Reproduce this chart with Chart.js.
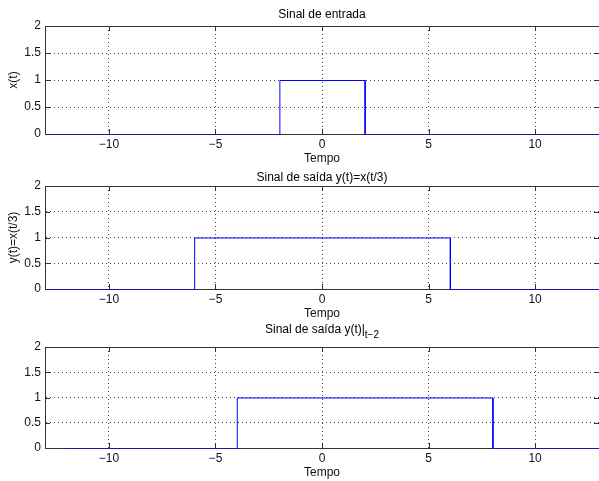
<!DOCTYPE html>
<html>
<head>
<meta charset="utf-8">
<script src="https://cdn.jsdelivr.net/npm/chart.js@4.4.0/dist/chart.umd.min.js"></script>
<style>
  html, body { margin: 0; padding: 0; background: #fff; }
  #wrap { position: relative; width: 599px; height: 481px; overflow: hidden; }
  canvas { position: absolute; left: 0; }
</style>
</head>
<body>
<div id="wrap">
  <canvas id="c1" width="599" height="166" style="top:0px"></canvas>
  <canvas id="c2" width="599" height="155" style="top:166px"></canvas>
  <canvas id="c3" width="599" height="160" style="top:321px"></canvas>
</div>
<script>
// ticks
const tickX = [-10, -5, 0, 5, 10];
const tickY = [0, 0.5, 1, 1.5, 2];

// sinal de entrada x(t)
const tEntrada = [-13, -2, -2, 2, 2, 13];
const xEntrada = [0, 0, 1, 1, 0, 0];

// sinal de saida y(t) = x(t/3)
const tSaida = [-13, -6, -6, 6, 6, 13];
const ySaida = [0, 0, 1, 1, 0, 0];

// sinal de saida deslocado y(t)|t-2
const tDesloc = [-12, -4, -4, 8, 8, 13];
const yDesloc = [0, 0, 1, 1, 0, 0];

const FONT = '"Liberation Sans", Arial, Helvetica, sans-serif';
const minus = s => String(s).replace('-', '\u2212');

// matlab-ish axes box: top line + inward ticks, title with optional subscript
const matBox = {
    id: 'matBox',
    beforeDatasetsDraw(chart) {
        const { ctx, chartArea: a, scales: { x, y } } = chart;
        ctx.save();
        ctx.strokeStyle = '#333';
        ctx.lineWidth = 1;
        ctx.beginPath();
        ctx.moveTo(a.left, a.top + 0.5);
        ctx.lineTo(a.right, a.top + 0.5);
        tickX.forEach(v => {
            const px = Math.round(x.getPixelForValue(v)) + 0.5;
            ctx.moveTo(px, a.bottom); ctx.lineTo(px, a.bottom - 5);
            ctx.moveTo(px, a.top); ctx.lineTo(px, a.top + 5);
        });
        tickY.forEach(v => {
            const py = Math.round(y.getPixelForValue(v)) + 0.5;
            ctx.moveTo(a.left, py); ctx.lineTo(a.left + 5, py);
            ctx.moveTo(a.right, py); ctx.lineTo(a.right - 5, py);
        });
        ctx.stroke();
        ctx.restore();
        ctx.save();
        ctx.translate(0.5, 0.5);
    },
    afterDatasetsDraw(chart) {
        chart.ctx.restore();
    },
    afterDraw(chart, args, opts) {
        const { ctx, chartArea: a } = chart;
        const cx = (a.left + a.right) / 2;
        ctx.save();
        ctx.fillStyle = '#000';
        ctx.textBaseline = 'alphabetic';
        ctx.textAlign = 'left';
        ctx.font = '12px ' + FONT;
        const w1 = ctx.measureText(opts.text).width;
        let w2 = 0;
        if (opts.sub) {
            ctx.font = '10px ' + FONT;
            w2 = ctx.measureText(opts.sub).width;
        }
        const x0 = cx - (w1 + w2) / 2;
        ctx.font = '12px ' + FONT;
        ctx.fillText(opts.text, x0, opts.y);
        if (opts.sub) {
            ctx.font = '10px ' + FONT;
            ctx.fillText(opts.sub, x0 + w1, opts.subY);
        }
        ctx.restore();
    }
};

function makeChart(id, t, vals, cfg) {
    const pts = t.map((v, i) => ({ x: v, y: vals[i] }));
    return new Chart(document.getElementById(id), {
        type: 'line',
        data: {
            datasets: [{
                data: pts,
                borderColor: '#0000ff',
                borderWidth: 1,
                pointRadius: 0,
                fill: false,
                tension: 0
            }]
        },
        options: {
            responsive: false,
            animation: false,
            events: [],
            layout: { padding: { top: cfg.top, left: 0, right: 0, bottom: 0 } },
            plugins: {
                legend: { display: false },
                tooltip: { enabled: false },
                matTitle: {},
                matBox: { text: cfg.title, sub: cfg.sub, y: cfg.titleY, subY: cfg.subY }
            },
            scales: {
                x: {
                    type: 'linear',
                    min: -13,
                    max: 13,
                    afterBuildTicks: s => { s.ticks = tickX.map(v => ({ value: v })); },
                    afterFit: s => { s.height = cfg.xh; },
                    ticks: {
                        callback: v => minus(v),
                        color: '#111',
                        font: { family: FONT, size: 12 },
                        padding: 3,
                        maxRotation: 0,
                        autoSkip: false
                    },
                    grid: { color: '#444', drawTicks: false },
                    border: { color: '#333', width: 1, dash: [1, 3] },
                    title: {
                        display: true,
                        text: 'Tempo',
                        color: '#111',
                        font: { family: FONT, size: 12 },
                        padding: { top: 0, bottom: cfg.tb }
                    }
                },
                y: {
                    type: 'linear',
                    min: 0,
                    max: 2,
                    afterBuildTicks: s => { s.ticks = tickY.map(v => ({ value: v })); },
                    afterFit: s => { s.width = 45; },
                    ticks: {
                        callback: v => String(v),
                        color: '#111',
                        font: { family: FONT, size: 12 },
                        padding: 4
                    },
                    grid: { color: '#444', drawTicks: false },
                    border: { color: '#333', width: 1, dash: [1, 3] },
                    title: {
                        display: !!cfg.ylabel,
                        text: cfg.ylabel || '',
                        color: '#111',
                        font: { family: FONT, size: 12 },
                        padding: { top: 6, bottom: 0 }
                    }
                }
            }
        },
        plugins: [matBox]
    });
}

makeChart('c1', tEntrada, xEntrada, {
    top: 26, xh: 32, tb: 0, ylabel: 'x(t)',
    title: 'Sinal de entrada', titleY: 17.5
});
makeChart('c2', tSaida, ySaida, {
    top: 20, xh: 32, tb: 0, ylabel: 'y(t)=x(t/3)',
    title: 'Sinal de saída y(t)=x(t/3)', titleY: 14.5
});
makeChart('c3', tDesloc, yDesloc, {
    top: 26, xh: 33, tb: 1.5, ylabel: '',
    title: 'Sinal de saída y(t)|', sub: 't\u22122', titleY: 11.7, subY: 17.3
});
</script>
</body>
</html>
